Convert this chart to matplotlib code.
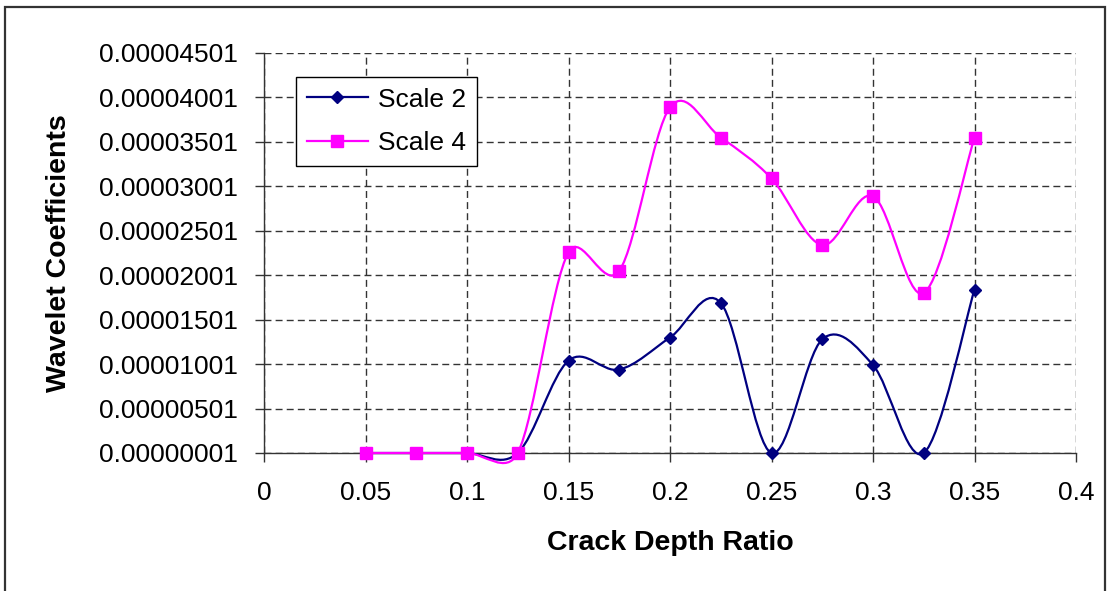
import numpy as np
import matplotlib.pyplot as plt
from matplotlib.path import Path
from matplotlib.patches import PathPatch, Rectangle
from matplotlib.lines import Line2D
from matplotlib.ticker import FormatStrFormatter

plt.rcParams['font.family'] = ['Liberation Sans', 'DejaVu Sans']

# crack depth ratio vs wavelet coefficient at two scales
depth_ratio = [0.05, 0.075, 0.1, 0.125, 0.15, 0.175, 0.2, 0.225, 0.25, 0.275, 0.3, 0.325, 0.35]
scale2 = [0.00000001, 0.00000001, 0.00000001, 0.00000001, 0.0000104, 0.0000094, 0.0000130,
          0.0000169, 0.00000001, 0.0000128, 0.0000099, 0.00000001, 0.0000184]
scale4 = [0.00000001, 0.00000001, 0.00000001, 0.00000001, 0.0000226, 0.0000205, 0.0000389,
          0.0000355, 0.0000309, 0.0000234, 0.0000289, 0.0000180, 0.0000355]

y_ticks = [0.00000001 + 0.000005 * k for k in range(10)]
x_ticks = [0, 0.05, 0.1, 0.15, 0.2, 0.25, 0.3, 0.35, 0.4]


def smooth_path(ax, xs, ys, clamp=0.5):
    # excel style smoothed line: catmull-rom bezier handles (tangent / 6),
    # each handle limited to a fraction of its own segment length on screen
    p = ax.transData.transform(np.column_stack([xs, ys]))
    n = len(p)
    fwd, back = [], []
    for i in range(n):
        prev = p[i - 1] if i > 0 else p[i]
        nxt = p[i + 1] if i < n - 1 else p[i]
        h = (nxt - prev) / 6.0
        hl = np.hypot(*h)
        dp = np.hypot(*(p[i] - prev))
        dn = np.hypot(*(nxt - p[i]))
        kf = min(1.0, clamp * dn / hl) if hl > 0 else 0.0
        kb = min(1.0, clamp * dp / hl) if hl > 0 else 0.0
        fwd.append(p[i] + h * kf)
        back.append(p[i] - h * kb)
    verts = [p[0]]
    codes = [Path.MOVETO]
    for i in range(n - 1):
        verts += [fwd[i], back[i + 1], p[i + 1]]
        codes += [Path.CURVE4] * 3
    return Path(ax.transData.inverted().transform(np.array(verts)), codes)


fig = plt.figure(figsize=(11.07, 5.91), dpi=100)
ax = fig.add_axes([264 / 1107, 1 - 453 / 591, (1076 - 264) / 1107, 400 / 591])
ax.set_xlim(0, 0.4)
ax.set_ylim(y_ticks[0], y_ticks[-1])

series = [
    (scale2, '#000080', 'D', 6.6, 'Scale 2'),
    (scale4, '#FF00FF', 's', 8.6, 'Scale 4'),
]
handles = []
for vals, color, marker, ms, label in series:
    curve = PathPatch(smooth_path(ax, depth_ratio, vals), facecolor='none', edgecolor=color,
                      lw=1.6, transform=ax.transData, clip_on=False, zorder=3)
    ax.add_patch(curve)
    ax.plot(depth_ratio, vals, ls='none', marker=marker, ms=ms, color=color,
            clip_on=False, zorder=4)
    handles.append(Line2D([], [], color=color, lw=1.6, marker=marker, ms=ms, label=label))

ax.set_xticks(x_ticks)
ax.set_xticklabels(['0', '0.05', '0.1', '0.15', '0.2', '0.25', '0.3', '0.35', '0.4'])
ax.set_yticks(y_ticks)
ax.yaxis.set_major_formatter(FormatStrFormatter('%.8f'))

ax.grid(True, color='#333333', lw=1.0, ls=(0, (5.0, 3.0)))
ax.set_axisbelow(True)
for side in ['top', 'right']:
    ax.spines[side].set_visible(False)
for side in ['left', 'bottom']:
    ax.spines[side].set_color('#333333')
    ax.spines[side].set_linewidth(1.0)

ax.tick_params(axis='both', direction='out', length=6.5, width=1.0, color='#333333',
               labelsize=19)
ax.tick_params(axis='y', pad=12)
ax.tick_params(axis='x', pad=14)

ax.set_xlabel('Crack Depth Ratio', fontsize=20.5, fontweight='bold', labelpad=18)
ax.set_ylabel('Wavelet Coefficients', fontsize=20.5, fontweight='bold', labelpad=20)

leg = ax.legend(handles=handles, loc='upper left', bbox_to_anchor=(0.04, 0.94),
                fontsize=19, handlelength=2.3, handletextpad=0.4, borderpad=0.4,
                labelspacing=0.75, fancybox=False, framealpha=1, borderaxespad=0)
leg.get_frame().set_edgecolor('black')
leg.get_frame().set_linewidth(1.0)

# chart area border
fig.patches.append(Rectangle((5 / 1107, -0.05), 1100 / 1107, 1.05 - 7 / 591,
                             transform=fig.transFigure, fill=False,
                             edgecolor='#333333', lw=1.6))

fig.savefig('out.png', dpi=100)
